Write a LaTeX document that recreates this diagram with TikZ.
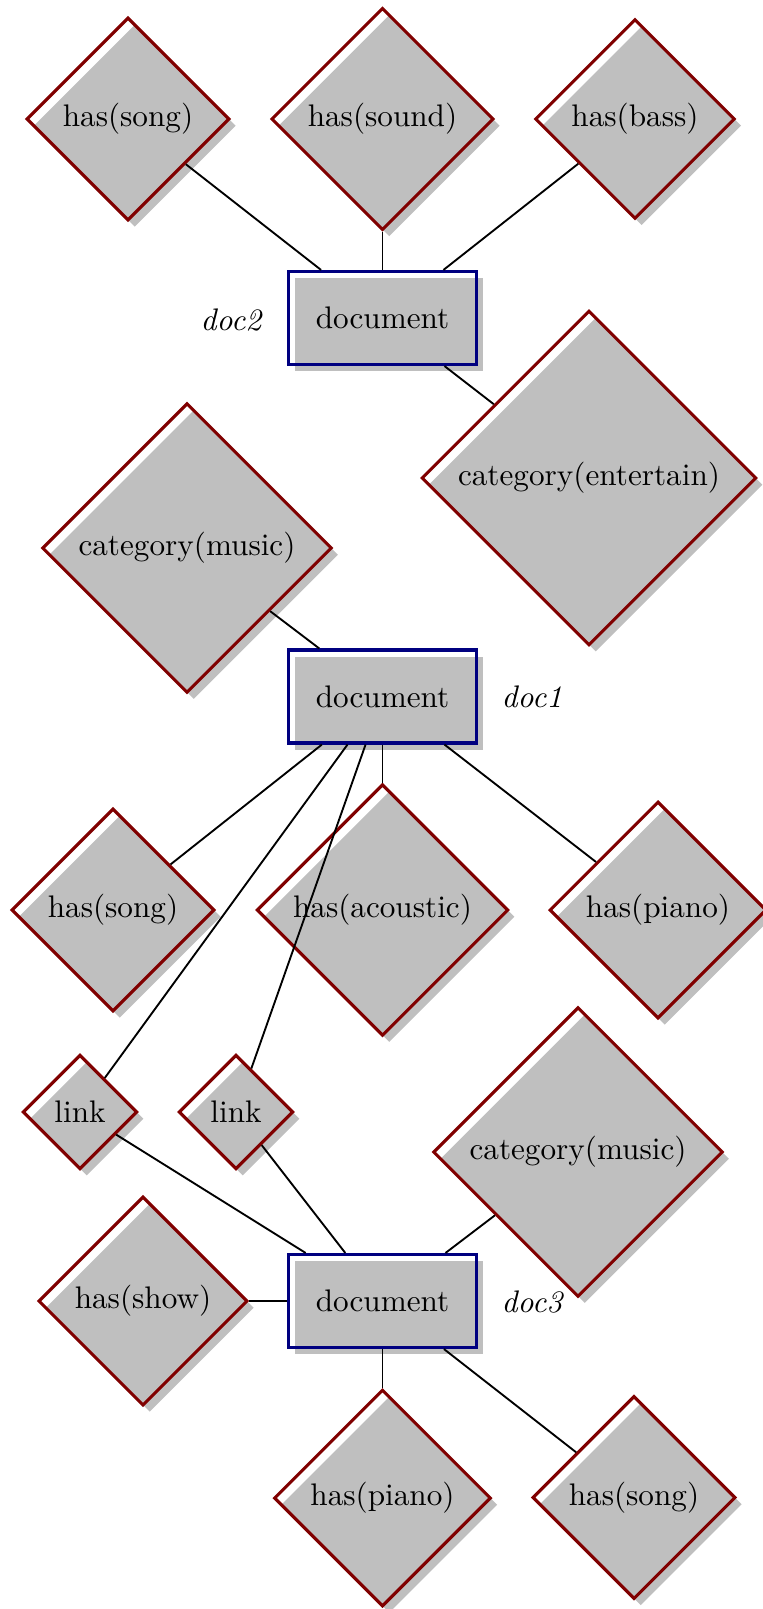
\documentclass[tikz,border=0pt]{standalone}
\usetikzlibrary{shapes.geometric,shadows}

\tikzset{
  relation/.style={diamond, aspect=1, draw=red!50!black, line width=1pt, drop shadow},
  entity/.style={rectangle, draw=blue!50!black, line width=1pt,
                 minimum width=60.3pt, minimum height=29.8pt, drop shadow},
  tag/.style={font=\itshape},
  conn/.style={semithick, black}
}

\begin{document}
\begin{tikzpicture}[x=0.3205pt, y=-0.3205pt]
  \useasboundingbox (0,0) rectangle (762,1609);

  % doc2 and its properties
  \node[relation] (hsongA)  at (128,119)  {has(song)};
  \node[relation] (hsound)  at (382.5,119) {has(sound)};
  \node[relation] (hbass)   at (635,119)  {has(bass)};
  \node[entity]   (doc2)    at (382.5,318) {document};
  \node[tag]      (ldoc2)   at (231,320)  {doc2};
  \node[relation] (catent)  at (589,478)  {category(entertain)};

  % doc1 and its properties
  \node[relation] (catmusA) at (187,548)  {category(music)};
  \node[entity]   (doc1)    at (382.5,696.5) {document};
  \node[tag]      (ldoc1)   at (532,697)  {doc1};
  \node[relation] (hsongB)  at (113,910)  {has(song)};
  \node[relation] (hacou)   at (382.5,910) {has(acoustic)};
  \node[relation] (hpianoB) at (658,910)  {has(piano)};

  % links between doc1 and doc3
  \node[relation] (linkA)   at (80,1112)  {link};
  \node[relation] (linkB)   at (236,1112) {link};

  % doc3 and its properties
  \node[relation] (catmusC) at (578,1152) {category(music)};
  \node[relation] (hshow)   at (143,1301) {has(show)};
  \node[entity]   (doc3)    at (382.5,1301) {document};
  \node[tag]      (ldoc3)   at (532,1302) {doc3};
  \node[relation] (hpianoC) at (382.5,1498) {has(piano)};
  \node[relation] (hsongC)  at (634,1497.5) {has(song)};

  % connectors
  \draw[conn] (doc2) -- (hsongA);
  \draw[conn] (doc2) -- (hsound);
  \draw[conn] (doc2) -- (hbass);
  \draw[conn] (doc2) -- (catent);

  \draw[conn] (doc1) -- (catmusA);
  \draw[conn] (doc1) -- (hsongB);
  \draw[conn] (doc1) -- (hacou);
  \draw[conn] (doc1) -- (hpianoB);
  \draw[conn] (doc1) -- (linkA);
  \draw[conn] (doc1) -- (linkB);

  \draw[conn] (linkA) -- (doc3);
  \draw[conn] (linkB) -- (doc3);
  \draw[conn] (doc3) -- (catmusC);
  \draw[conn] (doc3) -- (hshow);
  \draw[conn] (doc3) -- (hpianoC);
  \draw[conn] (doc3) -- (hsongC);
\end{tikzpicture}
\end{document}
